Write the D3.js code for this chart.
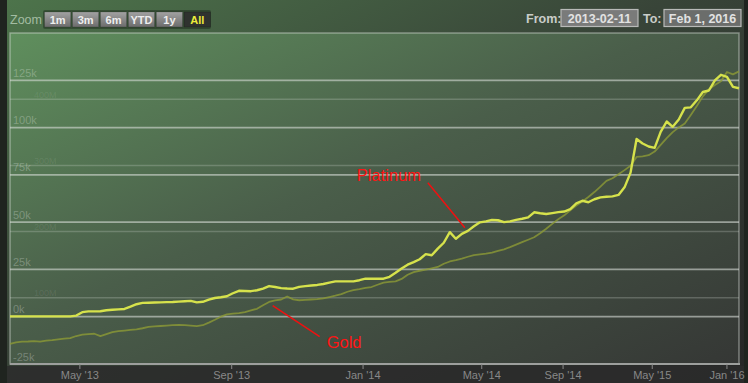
<!DOCTYPE html>
<html><head><meta charset="utf-8">
<script src="https://cdn.jsdelivr.net/npm/d3@7/dist/d3.min.js"></script>
<style>html,body{margin:0;padding:0;background:#232323;}svg{display:block}</style>
</head><body><svg id="c" width="748" height="383"></svg>
<script>
// ---- data (values in thousands, ordinal sample positions) ----
const platinum = [0.2,0.2,0.2,0.2,0.2,0.2,0.2,0.2,0.2,0.2,0.2,0.6,2.4,2.8,2.8,2.9,3.4,3.7,3.9,4.1,
5.3,6.6,7.3,7.4,7.5,7.6,7.7,7.8,8.0,8.2,8.4,7.6,7.9,9.0,9.9,10.3,10.8,12.4,13.7,13.6,
13.5,14.0,14.9,16.2,15.7,15.1,14.9,14.8,15.8,16.2,16.5,16.8,17.3,18.0,18.7,18.7,18.7,18.7,19.3,20.1,
20.1,20.1,20.1,21.1,23.2,25.5,27.5,28.9,30.4,33.1,32.5,36.0,39.1,44.7,41.2,43.8,45.4,47.8,49.9,50.4,
51.2,51.0,50.0,50.4,51.2,51.8,52.5,55.2,54.7,54.3,54.8,55.3,55.6,56.9,59.9,61.3,60.5,62.1,63.1,63.4,
63.6,64.4,68.4,76.2,94.0,91.6,90.0,89.3,97.7,103.2,100.4,104.3,110.4,110.7,114.4,118.8,119.6,124.9,127.9,126.8,
121.5,120.8];
const gold = [-14.3,-13.6,-13.2,-13.1,-12.9,-13.2,-12.6,-12.4,-12.0,-11.6,-11.3,-10.2,-9.5,-9.2,-9.0,-10.3,-9.2,-8.2,-7.6,-7.3,
-7.0,-6.7,-6.1,-5.4,-5.1,-4.9,-4.7,-4.5,-4.3,-4.5,-4.7,-5.0,-4.5,-3.1,-1.6,0.0,1.2,1.6,1.9,2.4,
3.3,4.2,6.1,7.8,8.6,9.1,10.7,9.2,8.7,8.9,9.1,9.3,9.7,10.4,11.1,11.9,13.2,14.1,14.6,15.2,
15.7,16.9,18.0,18.4,18.7,20.0,22.2,23.6,24.3,24.9,25.6,26.3,28.0,29.2,29.9,30.7,31.7,32.6,33.0,33.4,
33.9,34.8,35.6,36.8,38.1,39.4,40.7,42.0,44.1,46.5,49.1,51.5,53.6,56.2,58.8,60.9,63.3,65.9,68.8,71.8,
73.2,75.3,77.5,79.8,84.5,84.8,85.4,87.3,90.9,94.4,97.6,100.1,102.2,106.7,111.4,116.5,120.2,122.5,124.5,129.4,
128.1,129.7];
const yTicks = [-25,0,25,50,75,100,125];
const y2Ticks = [100,200,300,400];
const xTickLabels = ["May '13","Sep '13","Jan '14","May '14","Sep '14","May '15","Jan '16"];
const xTickIndex = [11.6,36.8,58.6,78.3,91.8,106.6,119.0];
const zoomButtons = ["1m","3m","6m","YTD","1y","All"];
const selectedButton = "All";
const fromDate = "2013-02-11", toDate = "Feb 1, 2016";
const annotations = [
  {label:"Platinum", idx:75.5, value:47.0},
  {label:"Gold", idx:43.6, value:5.8}
];

// ---- layout ----
const W = 748, H = 383;
const plot = {l:10, r:739, t:33, b:364};
const svg = d3.select("#c");
const defs = svg.append("defs");
const font = "'Liberation Sans', Arial, sans-serif";

function lg(id, stops, x2="1", y2="1"){
  const g = defs.append("linearGradient").attr("id", id)
    .attr("x1","0").attr("y1","0").attr("x2",x2).attr("y2",y2);
  stops.forEach(s => g.append("stop").attr("offset", s[0]).attr("stop-color", s[1]));
}
lg("bgGrad", [[0,"#4d744b"],[0.45,"#384438"],[1,"#262626"]]);
lg("plotGrad", [[0,"#5f8f5d"],[0.45,"#4a5e4a"],[1,"#353735"]]);
lg("btnGrad", [[0,"#a2a2a2"],[1,"#6c6c6c"]], "0", "1");

svg.append("rect").attr("width",W).attr("height",H).attr("fill","#1f241f");
svg.append("rect").attr("x",7).attr("y",0).attr("width",737).attr("height",H).attr("fill","url(#bgGrad)");
svg.append("rect").attr("x",7).attr("y",366).attr("width",737).attr("height",17).attr("fill","#2b2c2b").attr("opacity",0.85);
svg.append("rect").attr("x",plot.l).attr("y",plot.t).attr("width",plot.r-plot.l).attr("height",plot.b-plot.t)
  .attr("fill","url(#plotGrad)");

// scales
const x = d3.scaleLinear().domain([0, platinum.length-1]).range([plot.l, plot.r]);
const y = d3.scaleLinear().domain([-25,150]).range([plot.b, plot.t]);
const y2 = d3.scaleLinear().domain([0,500]).range([plot.b, plot.t]);

// secondary faint grid
const g2 = svg.append("g");
y2Ticks.forEach(t => {
  g2.append("line").attr("x1",plot.l).attr("x2",plot.r).attr("y1",y2(t)).attr("y2",y2(t))
    .attr("stroke","rgba(210,215,210,0.26)").attr("stroke-width",1.5);
  g2.append("text").attr("x",plot.l+24).attr("y",y2(t)-1.5).text(t+"M")
    .attr("font-family",font).attr("font-size",9).attr("fill","rgba(255,255,255,0.09)");
});
// primary grid
const g1 = svg.append("g");
yTicks.forEach(t => {
  if (t > -25) g1.append("line").attr("x1",plot.l).attr("x2",plot.r).attr("y1",y(t)).attr("y2",y(t))
    .attr("stroke","rgba(215,220,215,0.6)").attr("stroke-width",1.8);
  g1.append("text").attr("x",plot.l+3).attr("y",y(t)-3.5).text(t+"k")
    .attr("font-family",font).attr("font-size",11).attr("fill","rgba(255,255,255,0.26)");
});

// plot border
svg.append("rect").attr("x",plot.l).attr("y",plot.t).attr("width",plot.r-plot.l).attr("height",plot.b-plot.t)
  .attr("fill","none").attr("stroke","rgba(220,225,220,0.45)").attr("stroke-width",1.5);
// x axis line
svg.append("line").attr("x1",plot.l).attr("x2",plot.r+1).attr("y1",plot.b).attr("y2",plot.b)
  .attr("stroke","#9d9f9d").attr("stroke-width",2);

// x ticks
const xa = svg.append("g");
xTickIndex.forEach((ix,i) => {
  xa.append("line").attr("x1",x(ix)).attr("x2",x(ix)).attr("y1",plot.b).attr("y2",plot.b+5)
    .attr("stroke","#8a8a8a").attr("stroke-width",1);
  xa.append("text").attr("x",x(ix)).attr("y",379).attr("text-anchor","middle").text(xTickLabels[i])
    .attr("font-family",font).attr("font-size",11).attr("fill","#888888");
});

// lines
const line = d3.line().x((d,i)=>x(i)).y(d=>y(d)).curve(d3.curveLinear);
svg.append("path").datum(gold).attr("d",line).attr("fill","none")
  .attr("stroke","#8c9a36").attr("stroke-opacity",0.8).attr("stroke-width",1.8).attr("stroke-linejoin","round");
svg.append("path").datum(platinum).attr("d",line).attr("fill","none")
  .attr("stroke","#d6e24c").attr("stroke-width",2.4).attr("stroke-linejoin","round");

// annotations
const ann = svg.append("g");
const a0 = annotations[0], a1 = annotations[1];
ann.append("line").attr("x1",x(a0.idx)-37).attr("y1",y(a0.value)-45).attr("x2",x(a0.idx)).attr("y2",y(a0.value))
  .attr("stroke","#f01010").attr("stroke-width",1.5);
ann.append("text").attr("x",x(a0.idx)-108).attr("y",y(a0.value)-47).text(a0.label)
  .attr("font-family",font).attr("font-size",16.5).attr("fill","#ff1414");
ann.append("line").attr("x1",x(a1.idx)).attr("y1",y(a1.value)).attr("x2",x(a1.idx)+47).attr("y2",y(a1.value)+31)
  .attr("stroke","#f01010").attr("stroke-width",1.5);
ann.append("text").attr("x",x(a1.idx)+54).attr("y",y(a1.value)+42).text(a1.label)
  .attr("font-family",font).attr("font-size",16.5).attr("fill","#ff1414");

// toolbar
const tb = svg.append("g");
tb.append("text").attr("x",10).attr("y",24).text("Zoom")
  .attr("font-family",font).attr("font-size",12.5).attr("fill","#a3bca2");
tb.append("rect").attr("x",43).attr("y",10).attr("width",168).attr("height",19).attr("rx",2)
  .attr("fill","rgba(0,0,0,0.28)");
const bx = d3.scaleBand().domain(zoomButtons).range([44.5, 210.5]).paddingInner(0.06);
zoomButtons.forEach(b => {
  const sel = b === selectedButton;
  tb.append("rect").attr("x",bx(b)).attr("y",12).attr("width",bx.bandwidth()).attr("height",15)
    .attr("fill", sel ? "#2f322f" : "url(#btnGrad)").attr("stroke","rgba(0,0,0,0.3)").attr("stroke-width",0.5);
  tb.append("text").attr("x",bx(b)+bx.bandwidth()/2).attr("y",24).attr("text-anchor","middle").text(b)
    .attr("font-family",font).attr("font-size",11).attr("font-weight","bold")
    .attr("fill", sel ? "#ecec3a" : "#eeeeee");
});
tb.append("text").attr("x",526).attr("y",23).text("From:")
  .attr("font-family",font).attr("font-size",12.5).attr("font-weight","bold").attr("fill","#c9cdc9");
tb.append("rect").attr("x",561).attr("y",9.5).attr("width",77).attr("height",17)
  .attr("fill","#7a7b7a").attr("stroke","#b8bab8").attr("stroke-width",1.2);
tb.append("text").attr("x",599.5).attr("y",23).attr("text-anchor","middle").text(fromDate)
  .attr("font-family",font).attr("font-size",12.5).attr("font-weight","bold").attr("fill","#e2e2e2");
tb.append("text").attr("x",643).attr("y",23).text("To:")
  .attr("font-family",font).attr("font-size",12.5).attr("font-weight","bold").attr("fill","#c9cdc9");
tb.append("rect").attr("x",664).attr("y",9.5).attr("width",77).attr("height",17)
  .attr("fill","#6b6d6b").attr("stroke","#b8bab8").attr("stroke-width",1.2);
tb.append("text").attr("x",702.5).attr("y",23).attr("text-anchor","middle").text(toDate)
  .attr("font-family",font).attr("font-size",12.5).attr("font-weight","bold").attr("fill","#e2e2e2");
</script></body></html>
